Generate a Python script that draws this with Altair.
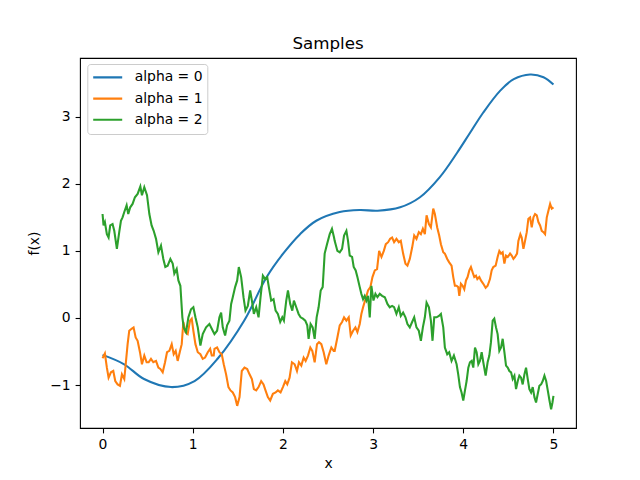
import altair as alt
import pandas as pd

# ---- data ----
series_names = ["alpha = 0", "alpha = 1", "alpha = 2"]
colors = ["#1f77b4", "#ff7f0e", "#2ca02c"]

blue_x = [0.0, 0.24, 0.46, 0.76, 1.02, 1.28, 1.57, 1.82, 2.0, 2.19, 2.37, 2.63, 2.85,
          3.05, 3.30, 3.52, 3.74, 3.93, 4.07, 4.22, 4.41, 4.56, 4.74, 4.89, 5.0]
blue_y = [-0.55, -0.69, -0.91, -1.03, -0.94, -0.60, -0.04, 0.61, 0.955, 1.25, 1.45, 1.58, 1.61,
          1.60, 1.65, 1.80, 2.10, 2.46, 2.75, 3.06, 3.39, 3.56, 3.63, 3.59, 3.48]

orange_x = [0.000, 0.026, 0.048, 0.067, 0.093, 0.119, 0.141, 0.167, 0.193, 0.215, 0.241, 0.259,
            0.278, 0.296, 0.322, 0.344, 0.367, 0.389, 0.415, 0.437, 0.463, 0.489, 0.511, 0.537,
            0.563, 0.593, 0.619, 0.641, 0.667, 0.693, 0.715, 0.741, 0.767, 0.789, 0.811, 0.833,
            0.856, 0.878, 0.896, 0.919, 0.944, 0.970, 0.989, 1.007, 1.030, 1.056, 1.085, 1.111,
            1.137, 1.167, 1.193, 1.211, 1.233, 1.241, 1.270, 1.296, 1.322, 1.344, 1.370, 1.396,
            1.419, 1.444, 1.470, 1.493, 1.519, 1.544, 1.574, 1.604, 1.630, 1.656, 1.678, 1.704,
            1.730, 1.759, 1.785, 1.807, 1.833, 1.859, 1.889, 1.919, 1.944, 1.974, 2.000, 2.026,
            2.048, 2.074, 2.100, 2.130, 2.156, 2.178, 2.204, 2.230, 2.252, 2.278, 2.304, 2.326,
            2.352, 2.378, 2.400, 2.426, 2.452, 2.481, 2.507, 2.537, 2.563, 2.574, 2.604, 2.630,
            2.656, 2.678, 2.704, 2.730, 2.752, 2.778, 2.804, 2.826, 2.852, 2.870, 2.889, 2.915,
            2.944, 2.970, 2.993, 3.019, 3.044, 3.067, 3.093, 3.119, 3.141, 3.167, 3.189, 3.211,
            3.233, 3.259, 3.285, 3.307, 3.333, 3.359, 3.381, 3.407, 3.433, 3.456, 3.481, 3.507,
            3.530, 3.552, 3.574, 3.593, 3.619, 3.641, 3.667, 3.685, 3.711, 3.733, 3.752, 3.778,
            3.796, 3.822, 3.844, 3.870, 3.889, 3.907, 3.926, 3.944, 3.956, 3.974, 3.993, 4.011,
            4.030, 4.048, 4.067, 4.085, 4.104, 4.122, 4.141, 4.156, 4.178, 4.196, 4.222, 4.248,
            4.270, 4.296, 4.315, 4.333, 4.359, 4.381, 4.400, 4.419, 4.437, 4.456, 4.474, 4.493,
            4.519, 4.537, 4.556, 4.574, 4.596, 4.611, 4.633, 4.648, 4.667, 4.685, 4.704, 4.722,
            4.741, 4.759, 4.778, 4.796, 4.815, 4.833, 4.852, 4.870, 4.889, 4.907, 4.926, 4.944,
            4.963, 4.981, 5.000]
orange_y = [-0.60, -0.53, -0.74, -0.89, -0.81, -0.79, -0.94, -0.99, -1.01, -0.84, -0.91, -0.66,
            -0.39, -0.19, -0.16, -0.14, -0.29, -0.34, -0.51, -0.69, -0.56, -0.66, -0.66, -0.61,
            -0.66, -0.64, -0.74, -0.76, -0.81, -0.66, -0.51, -0.49, -0.39, -0.54, -0.49, -0.64,
            -0.51, -0.39, -0.06, -0.21, -0.24, -0.04, -0.01, -0.19, -0.39, -0.51, -0.54, -0.61,
            -0.59, -0.51, -0.46, -0.56, -0.56, -0.46, -0.44, -0.51, -0.54, -0.69, -0.84, -1.03,
            -1.08, -1.11, -1.18, -1.31, -1.18, -0.79, -0.74, -0.76, -0.84, -0.91, -1.06, -1.08,
            -1.03, -0.94, -0.99, -1.08, -1.18, -1.23, -1.13, -1.11, -1.08, -1.11, -1.03, -0.94,
            -0.99, -0.89, -0.66, -0.69, -0.79, -0.66, -0.71, -0.59, -0.64, -0.56, -0.44, -0.49,
            -0.66, -0.39, -0.36, -0.39, -0.51, -0.69, -0.56, -0.44, -0.49, -0.49, -0.29, -0.11,
            -0.06, 0.01, -0.04, 0.01, -0.26, -0.19, -0.14, -0.21, -0.09, 0.06, 0.16, 0.28,
            0.41, 0.46, 0.61, 0.71, 0.73, 1.00, 0.91, 1.00, 1.10, 1.13, 1.18, 1.20,
            1.13, 1.18, 1.13, 1.15, 0.96, 0.81, 0.78, 0.88, 1.05, 1.23, 1.18, 1.28,
            1.25, 1.33, 1.25, 1.53, 1.40, 1.35, 1.63, 1.55, 1.35, 1.23, 1.10, 0.98,
            0.96, 0.88, 0.83, 0.78, 0.61, 0.48, 0.48, 0.46, 0.33, 0.51, 0.48, 0.43,
            0.56, 0.61, 0.71, 0.76, 0.68, 0.61, 0.63, 0.58, 0.61, 0.56, 0.51, 0.45,
            0.48, 0.58, 0.71, 0.76, 0.78, 0.91, 1.00, 0.96, 0.98, 0.81, 0.93, 0.91,
            0.96, 0.93, 0.88, 0.91, 0.96, 1.15, 1.25, 1.20, 1.03, 1.15, 1.28, 1.48,
            1.50, 1.35, 1.50, 1.55, 1.53, 1.43, 1.38, 1.30, 1.28, 1.25, 1.50, 1.60,
            1.70, 1.63, 1.65]

green_x = [0.000, 0.011, 0.026, 0.048, 0.067, 0.085, 0.111, 0.130, 0.159, 0.185, 0.204, 0.222,
           0.241, 0.267, 0.285, 0.307, 0.333, 0.359, 0.389, 0.419, 0.437, 0.463, 0.493, 0.519,
           0.544, 0.567, 0.593, 0.619, 0.648, 0.674, 0.696, 0.722, 0.752, 0.778, 0.796, 0.822,
           0.841, 0.863, 0.885, 0.900, 0.926, 0.952, 0.981, 1.007, 1.030, 1.056, 1.085, 1.111,
           1.148, 1.185, 1.222, 1.241, 1.270, 1.296, 1.315, 1.333, 1.359, 1.381, 1.407, 1.426,
           1.444, 1.470, 1.493, 1.511, 1.537, 1.563, 1.585, 1.611, 1.637, 1.656, 1.678, 1.704,
           1.730, 1.752, 1.778, 1.804, 1.826, 1.844, 1.870, 1.896, 1.919, 1.944, 1.970, 1.993,
           2.011, 2.037, 2.056, 2.081, 2.104, 2.122, 2.148, 2.174, 2.196, 2.222, 2.248, 2.270,
           2.285, 2.307, 2.330, 2.352, 2.374, 2.396, 2.419, 2.441, 2.463, 2.489, 2.519, 2.544,
           2.567, 2.574, 2.604, 2.630, 2.656, 2.678, 2.704, 2.722, 2.741, 2.767, 2.785, 2.807,
           2.826, 2.852, 2.870, 2.889, 2.907, 2.926, 2.944, 2.963, 2.981, 3.004, 3.026, 3.048,
           3.074, 3.100, 3.130, 3.159, 3.185, 3.211, 3.233, 3.259, 3.285, 3.307, 3.333, 3.359,
           3.381, 3.407, 3.433, 3.456, 3.481, 3.507, 3.530, 3.552, 3.574, 3.593, 3.619, 3.641,
           3.659, 3.678, 3.704, 3.730, 3.752, 3.778, 3.796, 3.822, 3.844, 3.870, 3.896, 3.926,
           3.944, 3.963, 3.981, 4.000, 4.019, 4.037, 4.056, 4.074, 4.093, 4.111, 4.130, 4.148,
           4.167, 4.185, 4.204, 4.222, 4.248, 4.270, 4.289, 4.307, 4.326, 4.344, 4.363, 4.381,
           4.400, 4.419, 4.437, 4.456, 4.474, 4.493, 4.511, 4.530, 4.548, 4.567, 4.585, 4.604,
           4.622, 4.641, 4.659, 4.678, 4.696, 4.715, 4.733, 4.752, 4.770, 4.789, 4.807, 4.826,
           4.844, 4.863, 4.881, 4.900, 4.919, 4.937, 4.956, 4.974, 4.989, 5.000]
green_y = [1.55, 1.38, 1.43, 1.25, 1.20, 1.38, 1.40, 1.30, 1.03, 1.28, 1.45, 1.50,
           1.58, 1.68, 1.55, 1.65, 1.70, 1.80, 1.85, 1.96, 1.83, 1.95, 1.83, 1.55,
           1.38, 1.30, 1.18, 0.98, 1.08, 0.88, 0.76, 0.78, 0.88, 0.81, 0.66, 0.73,
           0.56, 0.48, 0.01, -0.14, -0.21, 0.01, 0.13, 0.16, 0.01, -0.14, -0.41, -0.24,
           -0.14, -0.09, -0.19, -0.24, -0.19, 0.01, 0.08, -0.14, -0.26, -0.11, -0.04, 0.21,
           0.31, 0.46, 0.56, 0.76, 0.61, 0.31, 0.11, 0.18, 0.41, 0.26, 0.06, 0.16,
           0.01, 0.31, 0.63, 0.58, 0.61, 0.46, 0.26, 0.28, 0.11, 0.06, -0.06, 0.01,
           -0.04, 0.26, 0.41, 0.21, 0.11, 0.26, 0.16, 0.06, 0.01, -0.01, -0.04, -0.11,
           -0.31, -0.09, -0.14, -0.31, 0.01, 0.16, 0.41, 0.46, 0.96, 1.10, 1.25, 1.33,
           1.20, 1.15, 1.00, 0.98, 1.03, 1.23, 1.30, 1.15, 0.93, 0.91, 0.76, 0.71,
           0.61, 0.46, 0.36, 0.28, 0.33, 0.26, 0.33, 0.01, 0.48, 0.26, 0.36, 0.31,
           0.36, 0.33, 0.31, 0.21, 0.16, 0.18, 0.16, 0.06, 0.16, 0.03, 0.08, 0.01,
           -0.09, -0.14, -0.06, 0.01, -0.14, -0.19, -0.34, -0.14, 0.01, 0.23, 0.16, -0.04,
           -0.34, 0.01, 0.01, 0.03, 0.06, -0.14, -0.44, -0.54, -0.51, -0.64, -0.56, -0.69,
           -0.84, -1.03, -1.11, -1.23, -1.08, -0.94, -0.74, -0.66, -0.64, -0.74, -0.44, -0.51,
           -0.69, -0.64, -0.51, -0.66, -0.86, -0.66, -0.56, -0.36, -0.04, -0.01, -0.14, -0.24,
           -0.49, -0.44, -0.31, -0.51, -0.71, -0.74, -0.79, -0.81, -0.91, -0.86, -1.06, -0.94,
           -0.86, -0.89, -0.99, -0.84, -0.74, -0.91, -1.06, -1.11, -1.03, -1.18, -1.26, -1.13,
           -1.01, -0.99, -0.94, -0.86, -0.94, -1.08, -1.23, -1.36, -1.26, -1.16]

x_ticks = [0, 1, 2, 3, 4, 5]
y_ticks = [-1, 0, 1, 2, 3]
x_domain = [-0.25, 5.25]
y_domain = [-1.64, 3.876]

# ---- tables ----
smooth_df = pd.DataFrame({"x": blue_x, "y": blue_y, "series": series_names[0]})
noisy_df = pd.concat([
    pd.DataFrame({"x": orange_x, "y": orange_y, "series": series_names[1]}),
    pd.DataFrame({"x": green_x, "y": green_y, "series": series_names[2]}),
], ignore_index=True)

FONT = "DejaVu Sans"

xenc = alt.X("x:Q", scale=alt.Scale(domain=x_domain, nice=False, zero=False),
             axis=alt.Axis(values=x_ticks, title="x", format="d"))
yenc = alt.Y("y:Q", scale=alt.Scale(domain=y_domain, nice=False, zero=False),
             axis=alt.Axis(values=y_ticks, title="f(x)", format="d"))
cenc = alt.Color("series:N",
                 scale=alt.Scale(domain=series_names, range=colors),
                 legend=alt.Legend(title=None, orient="none", legendX=7.3, legendY=6.0,
                                   symbolType="stroke", symbolSize=841,
                                   symbolStrokeWidth=2.08, labelFont=FONT,
                                   labelFontSize=13.9, labelColor="black",
                                   labelOffset=11, clipHeight=18, rowPadding=3.2,
                                   padding=4.4, strokeColor="#cccccc",
                                   fillColor="rgba(255,255,255,0.8)", cornerRadius=3,
                                   labelLimit=300))

smooth = alt.Chart(smooth_df).mark_line(strokeWidth=2.08, interpolate="catmull-rom").encode(
    x=xenc, y=yenc, color=cenc, order="x:Q")
noisy = alt.Chart(noisy_df).mark_line(strokeWidth=2.08).encode(
    x=xenc, y=yenc, color=cenc, order="x:Q")

chart = alt.layer(smooth, noisy).properties(
    width=496, height=370,
    title=alt.TitleParams("Samples", font=FONT, fontSize=16.7, fontWeight="normal",
                          anchor="middle", color="black", offset=-8, baseline="alphabetic"),
    autosize=alt.AutoSizeParams(type="none"),
    padding={"left": 80, "top": 58, "right": 64, "bottom": 52},
).configure_view(
    stroke="black", strokeWidth=1.1
).configure_axis(
    grid=False, domain=False, labelFont=FONT, labelFontSize=13.9, labelColor="black",
    tickColor="black", tickSize=4.9, tickWidth=1.1, labelPadding=4.9,
    titleFont=FONT, titleFontSize=13.9, titleFontWeight="normal", titleColor="black"
).configure_axisX(
    titlePadding=5
).configure_axisY(
    titlePadding=8
)

chart.save("out.html", embed_options={"renderer": "svg", "actions": False})
